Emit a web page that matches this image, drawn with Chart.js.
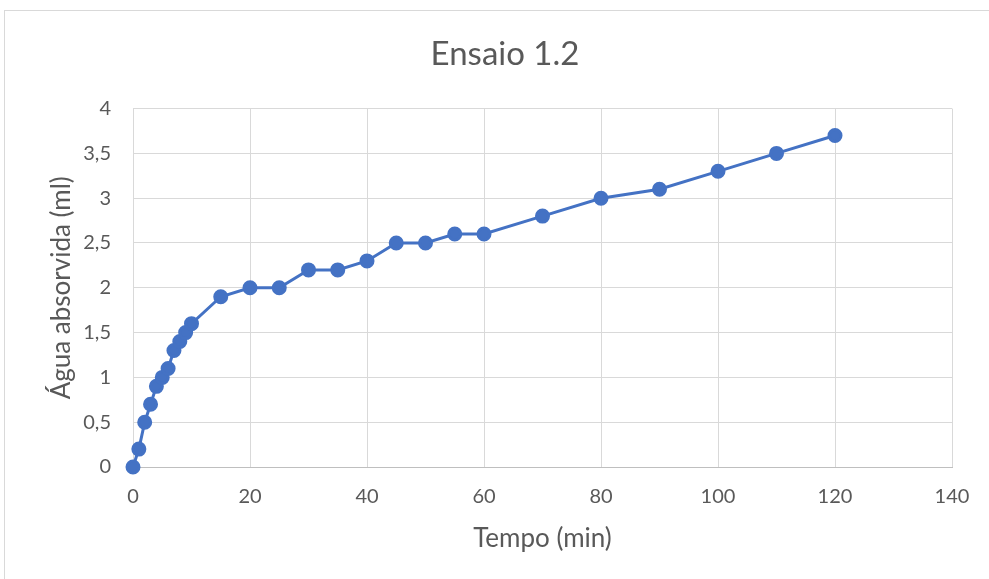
<!DOCTYPE html>
<html>
<head>
<meta charset="utf-8">
<script src="https://cdn.jsdelivr.net/npm/chart.js@4/dist/chart.umd.min.js"></script>
<style>
  html, body { margin: 0; padding: 0; background: #fff; overflow: hidden; }
  #frame { position: absolute; left: 4px; top: 10px; width: 1100px; height: 700px; border: 1px solid #d9d9d9; }
  #wrap { position: absolute; left: 0; top: 0; width: 989px; height: 579px; }
</style>
</head>
<body>
<div id="frame"></div>
<div id="wrap"><canvas id="chart"></canvas></div>
<script>
// Ensaio 1.2 - time (min) vs absorbed water (ml)
const tempo = [0, 1, 2, 3, 4, 5, 6, 7, 8, 9, 10, 15, 20, 25, 30, 35, 40, 45, 50, 55, 60, 70, 80, 90, 100, 110, 120];
const agua = [0, 0.2, 0.5, 0.7, 0.9, 1.0, 1.1, 1.3, 1.4, 1.5, 1.6, 1.9, 2.0, 2.0, 2.2, 2.2, 2.3, 2.5, 2.5, 2.6, 2.6, 2.8, 3.0, 3.1, 3.3, 3.5, 3.7];

const textColor = '#595959';
const gridColor = '#d9d9d9';
const fontFamily = 'Lato, "Open Sans", sans-serif';

const points = tempo.map((t, i) => ({ x: t, y: agua[i] }));

const ctx = document.getElementById('chart').getContext('2d');
new Chart(ctx, {
    type: 'scatter',
    data: {
        datasets: [{
            label: 'Ensaio 1.2',
            data: points,
            showLine: true,
            clip: false,
            borderColor: '#4472c4',
            backgroundColor: '#4472c4',
            borderWidth: 3,
            pointRadius: 6,
            pointHoverRadius: 6
        }]
    },
    options: {
        responsive: true,
        maintainAspectRatio: false,
        animation: false,
        layout: {
            // left padding keeps the title centred like the original
            padding: { left: 58, right: 37, top: 0, bottom: 0 }
        },
        plugins: {
            legend: { display: false },
            tooltip: { enabled: false },
            title: {
                display: true,
                text: 'Ensaio 1.2',
                color: textColor,
                font: { family: fontFamily, size: 33, weight: 'normal' },
                padding: { top: 35, bottom: 34 }
            }
        },
        scales: {
            x: {
                type: 'linear',
                min: 0,
                max: 140,
                ticks: {
                    stepSize: 20,
                    color: textColor,
                    padding: 18,
                    font: { family: fontFamily, size: 20 }
                },
                grid: { color: gridColor, lineWidth: 1, drawTicks: false },
                border: { color: '#bfbfbf', width: 1 },
                title: {
                    display: true,
                    text: 'Tempo (min)',
                    color: textColor,
                    font: { family: fontFamily, size: 26 },
                    padding: { top: 0, bottom: 25 }
                },
                afterFit: (scale) => { scale.height = 112; }
            },
            y: {
                min: 0,
                max: 4,
                ticks: {
                    stepSize: 0.5,
                    color: textColor,
                    padding: 22,
                    font: { family: fontFamily, size: 20 },
                    callback: (v) => v.toString().replace('.', ',')
                },
                grid: { color: gridColor, lineWidth: 1, drawTicks: false },
                border: { color: gridColor, width: 1 },
                title: {
                    display: true,
                    text: 'Água absorvida (ml)',
                    color: textColor,
                    font: { family: fontFamily, size: 26 },
                    padding: { top: -12, bottom: 0 }
                },
                afterFit: (scale) => { scale.width = 75; }
            }
        }
    }
});
</script>
</body>
</html>
